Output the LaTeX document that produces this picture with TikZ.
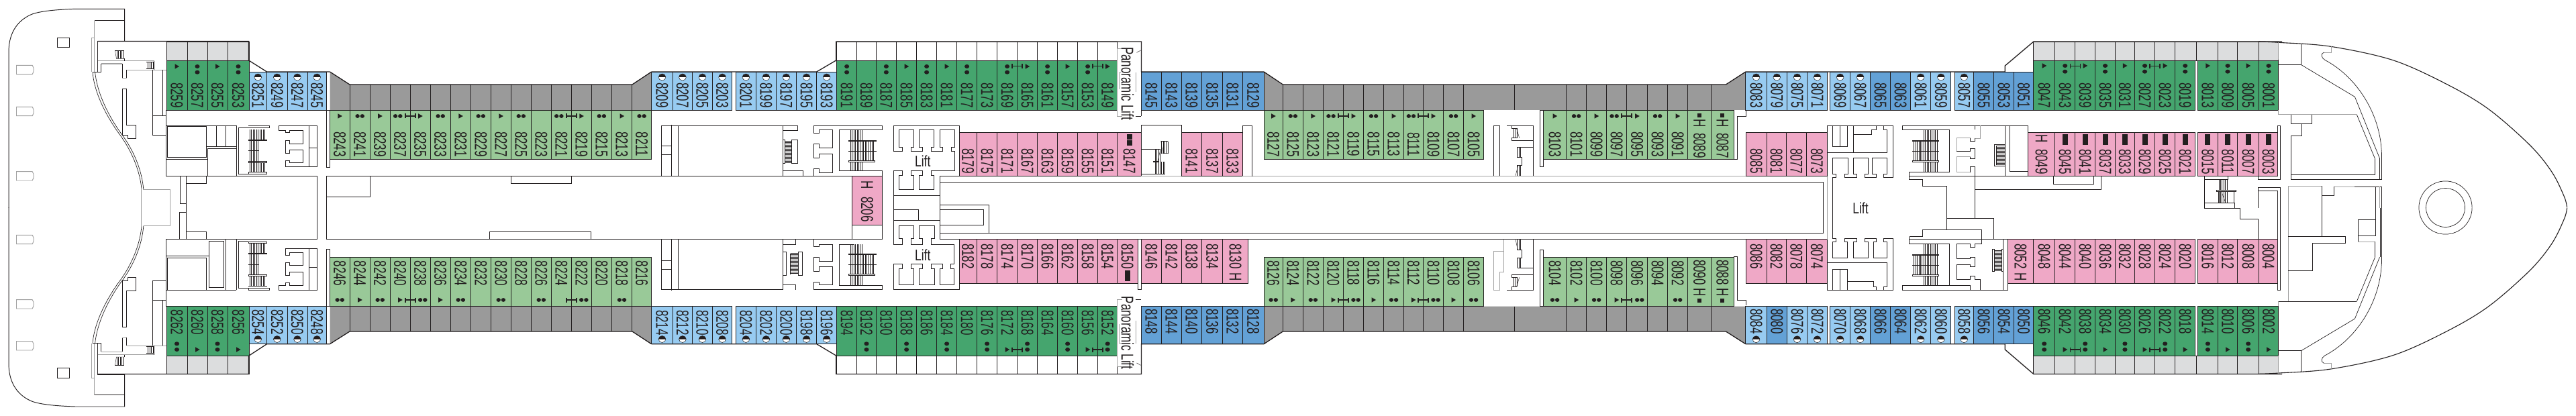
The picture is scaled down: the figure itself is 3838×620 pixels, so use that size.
\documentclass[tikz,border=0pt]{standalone}
\usepackage{fontspec}
\usepackage{graphicx}
\setmainfont{Liberation Sans}
\definecolor{ink}{HTML}{231F20}
\definecolor{dg}{HTML}{45A56E}
\definecolor{mg}{HTML}{99C998}
\definecolor{lb}{HTML}{97CBF1}
\definecolor{bb}{HTML}{63A1D6}
\definecolor{pk}{HTML}{EFA8C6}
\definecolor{gy}{HTML}{9A9A9A}
\definecolor{lg}{HTML}{DCDDDE}
\definecolor{gl}{HTML}{A0A0A0}
\tikzset{
 zz/.style 2 args={shift={(#1,#2)},x=0.408163pt,y=-0.333333pt},
 zy/.style 2 args={shift={(#1,#2)},x=0.40689pt,y=-0.333333pt},
 ln/.style={draw=ink,line width=0.95pt,line join=miter},
 gr/.style={draw=gl,line width=0.95pt},
 grt/.style={draw=gl,line width=1.5pt},
 thn/.style={draw=ink,line width=0.45pt},
 thk/.style={draw=ink,line width=1.7pt},
 cab/.style={draw=ink,line width=0.95pt},
 lab/.style={rotate=-90,inner sep=0pt,text=ink,font=\fontsize{17}{17}\selectfont},
 mirror/.style={shift={(0,619.33)},yscale=-1}
}
\newcommand\rl[1]{\scalebox{1}[1.5]{#1}}
\newcommand\mkn{}
\newcommand\mkt{\fill[ink] (\cx-3,\my-3.7)--(\cx+3.6,\my)--(\cx-3,\my+3.7)--cycle;}
\newcommand\dpair[1]{\fill[ink] (#1-3.6,\my) ellipse [x radius=3.2,y radius=2.9];\fill[ink] (#1+3.6,\my) ellipse [x radius=3.2,y radius=2.9];}
\newcommand\mkd{\dpair{\cx}}
\newcommand\mkD{\dpair{\cx-3.5}}
\newcommand\mkE{\dpair{\cx+3.5}}
\newcommand\mkv{\fill[ink] (\cx,\my) ellipse [x radius=3.6,y radius=3];\fill[ink] (\cx,\my+8.7) ellipse [x radius=3.6,y radius=3];}
\newcommand\mku{\fill[ink] (\cx,\my) ellipse [x radius=3.6,y radius=3];\fill[ink] (\cx,\my-8.7) ellipse [x radius=3.6,y radius=3];}
\newcommand\mkc{\draw[ink,line width=.5pt,fill=white] (\cx,\my) ellipse [x radius=5.4,y radius=5];\fill[ink] (\cx-5.4,\my) arc [start angle=180,end angle=360,x radius=5.4,y radius=5]--cycle;}
\newcommand\mkb{\fill[ink] (\cx-4,\my-8) rectangle (\cx+4,\my+8);}
\newcommand\mkH{\node[lab] at (\cx,\my) {\rl{H}};}
\newcommand\mks{\fill[ink] (\cx-3,\my-2.7) rectangle (\cx+3,\my+2.7);\node[lab] at (\cx,\my+11.3) {\rl{H}};}
\newcommand\mkS{\fill[ink] (\cx-3,\my-2.7) rectangle (\cx+3,\my+2.7);\node[lab] at (\cx,\my-12) {\rl{H}};}
\newcommand\mkq{\fill[ink] (\cx-4,200) rectangle (\cx+4,208);\fill[ink] (\cx-4,209) rectangle (\cx+4,217);}
\newcommand\cabrow[6]{\def\my{#4}\foreach \xa/\xb/\lbl/\mkr in {#6}{\pgfmathsetmacro\cx{(\xa+\xb)/2}\draw[cab,fill=#5] (\xa,#1) rectangle (\xb,#2);\node[lab] (c\lbl) at (\cx,#3) {\rl{\lbl}};\csname mk\mkr\endcsname}}
\newcommand\blank[4]{\foreach \xa/\xb in {#4}{\draw[cab,fill=#3] (\xa,#1) rectangle (\xb,#2);}}
\newcommand\conn[2]{\foreach \q in {#2}{\draw[ink,line width=1.3pt] (\q-7.5,#1)--(\q+7.5,#1);\draw[ink,line width=1.5pt] (\q-7.5,#1-3.5)--(\q-7.5,#1+3.5);\draw[ink,line width=1.5pt] (\q+7.5,#1-3.5)--(\q+7.5,#1+3.5);}}
\newcommand\hv[4]{\pgfmathtruncatemacro\hb{#1+6}\foreach \hx in {#1,\hb,...,#2}{\draw[thn] (\hx,#3)--(\hx,#4);}}
\newcommand\hh[4]{\pgfmathtruncatemacro\hb{#3+6}\foreach \hy in {#3,\hb,...,#4}{\draw[thn] (#1,\hy)--(#2,\hy);}}
\newcommand\sternhalf{%
 \begin{scope}[zz={0}{0}]
 \draw[ln] (455,186)--(455,40)--(275,40) .. controls (200,43) and (150,50) .. (120,62) .. controls (70,85) and (32,140) .. (32,230)--(32,930);
 \draw[ln] (345,92)--(453,92);
 \draw[gr] (345,92)--(345,168)--(335,168)--(335,322);\draw[gr] (345,168)--(345,322);
 \draw[thn,line width=.7pt] (338,323) .. controls (345,420) and (390,520) .. (430,590) .. controls (480,670) and (510,760) .. (517,845);
 \draw[thn,line width=.7pt] (347,323) .. controls (355,420) and (398,520) .. (438,590) .. controls (488,670) and (518,760) .. (524,848);
 \draw[gr] (524,848)--(620,848)--(620,930);\draw[gr] (515,845)--(515,930);
 \draw[ln] (356,184)--(455,184);\draw[ln] (356,184)--(356,323);
 \draw[ln] (338,323)--(369,323)--(369,285);\draw[grt] (369,285)--(447,285);\draw[ln] (447,285)--(447,348);
 \draw[gr] (447,348)--(462,348);\draw[ln] (462,348)--(462,312);\draw[gr] (462,312)--(607,312);
 \draw[grt] (357,272)--(563,272);\draw[ln] (455,262)--(455,272);\draw[ln] (533,278)--(563,278);\draw[ln] (563,272)--(563,312);
 \hv{426}{452}{226}{262}\draw[ln] (420,226)--(454,226);\draw[thn] (420,226)--(425,262)--(454,262);
 \hv{540}{558}{278}{308}\draw[thn] (533,308)--(562,308);
 \draw[ln] (557,312)--(557,604)--(607,604);\draw[ln] (557,517)--(607,517);\draw[ln] (594,312)--(594,517);
 \draw[ln] (447,397)--(462,397)--(462,558)--(496,558)--(496,619)--(467,619)--(467,604)--(447,604)--cycle;
 \draw[ln] (209,169) rectangle (254,212);
 \foreach \p in {292,478,767}{\draw[gr] (60,\p)--(118,\p) .. controls (125,\p+13) and (125,\p+27) .. (118,\p+40)--(60,\p+40)--cycle;}
 \end{scope}}
\newcommand\bowhalf{%
 \begin{scope}[zy={3200}{0}]
 \draw[ln,line width=1.1pt] plot[smooth,tension=.55] coordinates {(405,186) (480,190) (670,208) (900,270) (1100,380) (1250,490) (1400,650) (1480,770) (1525,880) (1535,928)};
 \draw[gr] (478,190)--(478,268);
 \draw[ln] (562,198)--(562,290)--(478,290);
 \draw[thn,line width=.7pt] (562,290)--(758,433)--(849,708);
 \draw[gr] (672,208)--(672,234)--(645,234);
 \draw[thn,line width=.7pt] (645,234) .. controls (632,240) and (635,258) .. (648,268) .. controls (760,340) and (850,500) .. (856,680);
 \end{scope}}
\begin{document}
\begin{tikzpicture}[x=1pt,y=-1pt]
\useasboundingbox (0,0) rectangle (3838,620);
\fill[white] (0,0) rectangle (3838,620);
% ---------- grey promenade polygons
\foreach \xl/\xa/\xb/\xr in {491.5/521/942/970.6,1883/1911.4/2571.4/2600.8}{
 \fill[gy] (\xl,107)--(\xa,126)--(\xb,126)--(\xr,107)--(\xr,164)--(\xl,164)--cycle;
 \draw[ln,line width=1.3pt] (\xl,107)--(\xa,126)--(\xb,126)--(\xr,107);
 \fill[gy] (\xl,512.7)--(\xa,494)--(\xb,494)--(\xr,512.7)--(\xr,456.5)--(\xl,456.5)--cycle;
 \draw[ln,line width=1.3pt] (\xl,512.7)--(\xa,494)--(\xb,494)--(\xr,512.7);
}
\foreach \q in {521,551.4,581,611.4,641,671.4,701.2,731.4,761.2,791.4,821.2,851.4,881.2,911.4,941.6,1911.4,1941.2,1971.4,2001.6,2031.4,2061.6,2091.4,2120.4,2150.6,2180.4,2256.7,2333.5,2363.7,2393.5,2423.7,2454.7,2484.5,2514.7,2549.4}{
 \draw[cab] (\q,126)--(\q,164);\draw[cab] (\q,456.5)--(\q,494);}
% ---------- top row, odd cabins
\blank{62}{90}{lg}{248/279,279/309,309/339,339/371,3029.8/3061.6,3061.6/3091.8,3091.8/3121.6,3121.6/3151.4,3151.4/3180.4,3180.4/3210.6,3210.6/3240.8,3240.8/3272.7,3272.7/3304.1,3304.1/3333.9,3333.9/3365.3,3365.3/3394.7}
\blank{530.3}{557.3}{lg}{248/279,279/309,309/339,339/371,3029.8/3061.6,3061.6/3091.8,3091.8/3121.6,3121.6/3151.4,3151.4/3180.4,3180.4/3210.6,3210.6/3240.8,3240.8/3272.7,3272.7/3304.1,3304.1/3333.9,3333.9/3365.3,3365.3/3394.7}
\blank{62}{90}{white}{1246.5/1276.7,1276.7/1305.3,1305.3/1335.5,1335.5/1365.7,1365.7/1395.5,1395.5/1425.7,1425.7/1455.5,1455.5/1485.7,1485.7/1515.5,1515.5/1545.7,1545.7/1575.5,1575.5/1605.7,1605.7/1635.5,1635.5/1664.9}
\blank{530.3}{557.3}{white}{1246.5/1276.7,1276.7/1305.3,1305.3/1335.5,1335.5/1365.7,1365.7/1395.5,1395.5/1425.7,1425.7/1455.5,1455.5/1485.7,1485.7/1515.5,1515.5/1545.7,1545.7/1575.5,1575.5/1605.7,1605.7/1635.5,1635.5/1664.9}
\cabrow{90}{164}{142}{99}{dg}{248/279/8259/t,279/309/8257/v,309/339/8255/t,339/371/8253/v}
\cabrow{107}{164}{142}{115}{lb}{371/397.6/8251/c,397.6/428/8249/c,428/458/8247/c,458/486.5/8245/c}
\cabrow{164}{237}{215}{173}{mg}{491.5/521/8243/t,521/551.4/8241/d,551.4/581/8239/t,581/611.4/8237/D,611.4/641/8235/t,641/671.4/8233/d,671.4/701.2/8231/t,701.2/731.4/8229/d,731.4/761.2/8227/t,761.2/791.4/8225/d,791.4/821.2/8223/n,821.2/851.4/8221/D,851.4/881.2/8219/t,881.2/911.4/8215/d,911.4/941.6/8213/t,941.6/970.6/8211/d}
\cabrow{107}{164}{142}{115}{lb}{970.6/1002.4/8209/c,1002.4/1031.4/8207/c,1031.4/1061.6/8205/c,1061.6/1090.6/8203/c,1096.3/1126.5/8201/c,1126.5/1156.3/8199/c,1156.3/1186.5/8197/c,1186.5/1216.7/8195/c,1216.7/1246.5/8193/c}
\cabrow{90}{164}{142}{99}{dg}{1246.5/1276.7/8191/v,1276.7/1305.3/8189/n,1305.3/1335.5/8187/v,1335.5/1365.7/8185/t,1365.7/1395.5/8183/v,1395.5/1425.7/8181/t,1425.7/1455.5/8177/v,1455.5/1485.7/8173/n,1485.7/1515.5/8169/v,1515.5/1545.7/8165/t,1545.7/1575.5/8161/v,1575.5/1605.7/8157/t,1605.7/1635.5/8153/v,1635.5/1664.9/8149/t}
\cabrow{107}{164}{142}{115}{bb}{1700.4/1730.6/8145/n,1730.6/1760.4/8143/n,1760.4/1790.6/8139/n,1790.6/1821.6/8135/n,1821.6/1851.4/8131/n,1851.4/1883/8129/n}
\cabrow{164}{237}{215}{173}{mg}{1883/1911.4/8127/t,1911.4/1941.2/8125/d,1941.2/1971.4/8123/t,1971.4/2001.6/8121/D,2001.6/2031.4/8119/t,2031.4/2061.6/8115/d,2061.6/2091.4/8113/t,2091.4/2120.4/8111/D,2120.4/2150.6/8109/t,2150.6/2180.4/8107/d,2180.4/2210.6/8105/t,2299.6/2333.5/8103/t,2333.5/2363.7/8101/d,2363.7/2393.5/8099/t,2393.5/2423.7/8097/D,2423.7/2454.7/8095/t,2454.7/2484.5/8093/d,2484.5/2514.7/8091/t}
\cabrow{164}{237}{217}{172}{mg}{2514.7/2549.4/8089/s,2549.4/2583.3/8087/s}
\cabrow{107}{164}{142}{115}{lb}{2600.8/2632.2/8083/c,2632.2/2662.4/8079/c,2662.4/2692.7/8075/c,2692.7/2722.4/8071/c,2726.5/2756.7/8069/c,2756.7/2786.5/8067/c,2846.5/2876.7/8061/c,2876.7/2906.9/8059/c,2912.2/2940.4/8057/c}
\cabrow{107}{164}{142}{115}{bb}{2786.5/2816.7/8065/n,2816.7/2846.5/8063/n,2940.4/2970.6/8055/n,2970.6/3000.4/8053/n,3000.4/3029.8/8051/n}
\cabrow{90}{164}{142}{98}{dg}{3029.8/3061.6/8047/t,3061.6/3091.8/8043/v,3091.8/3121.6/8039/t,3121.6/3151.4/8035/v,3151.4/3180.4/8031/t,3180.4/3210.6/8027/v,3210.6/3240.8/8023/t,3240.8/3270.6/8019/v,3274.7/3304.1/8013/t,3304.1/3333.9/8009/v,3333.9/3365.3/8005/t,3365.3/3394.7/8001/v}
% ---------- inner pink, upper
\cabrow{197}{262.7}{240}{208}{pk}{1429/1455.5/8179/n,1455.5/1485.7/8175/n,1485.7/1515.5/8171/n,1515.5/1545.7/8167/n,1545.7/1575.5/8163/n,1575.5/1605.7/8159/n,1605.7/1635.5/8155/n,1635.5/1664.9/8151/n,1664.9/1700.4/8147/q,1760.4/1790.6/8141/n,1790.6/1821.6/8137/n,1821.6/1851.4/8133/n,2601.2/2632.2/8085/n,2632.2/2661.2/8081/n,2661.2/2691.4/8077/n,2691.4/2722.4/8073/n}
\cabrow{197}{262.7}{241}{207}{pk}{3021.6/3061.6/8049/H}
\cabrow{197}{262.7}{241}{208}{pk}{3061.6/3091.8/8045/b,3091.8/3121.6/8041/b,3121.6/3151.4/8037/b,3151.4/3180.4/8033/b,3180.4/3210.6/8029/b,3210.6/3240.8/8025/b,3240.8/3270.6/8021/b,3274.7/3304.1/8015/b,3304.1/3333.9/8011/b,3333.9/3365.3/8007/b,3365.3/3393.9/8003/b}
\draw[cab,fill=pk] (1269.4,262.7) rectangle (1314.7,335.3);
\node[lab] (c8206) at (1292,312) {\rl{8206}};\node[lab] (h8206) at (1292,275.7) {\rl{H}};
% ---------- inner pink, lower
\cabrow{356.7}{422.3}{382}{411}{pk}{1429/1455.5/8182/n,1455.5/1485.7/8178/n,1485.7/1515.5/8174/n,1515.5/1545.7/8170/n,1545.7/1575.5/8166/n,1575.5/1605.7/8162/n,1605.7/1635.5/8158/n,1635.5/1664.5/8154/n,1664.5/1695/8150/b,1700.4/1730.6/8146/n,1730.6/1760.4/8142/n,1760.4/1790.6/8138/n,1790.6/1821.6/8134/n,2601.2/2632.2/8086/n,2632.2/2661.2/8082/n,2661.2/2691.4/8078/n,2691.4/2722.4/8074/n}
\cabrow{356.7}{422.3}{382}{413}{pk}{1821.6/1859.6/8130/H,2991.4/3029.4/8052/H}
\cabrow{356.7}{422.3}{382}{411}{pk}{3029.4/3061.6/8048/n,3061.6/3091.8/8044/n,3091.8/3121.6/8040/n,3121.6/3151.4/8036/n,3151.4/3180.4/8032/n,3180.4/3210.6/8028/n,3210.6/3240.8/8024/n,3240.8/3270.6/8020/n,3274.7/3304.1/8016/n,3304.1/3333.9/8012/n,3333.9/3365.3/8008/n,3365.3/3393.9/8004/n}
% ---------- bottom row, even cabins
\cabrow{456.7}{530.3}{480.5}{521}{dg}{248/279/8262/u,279/309/8260/t,309/339/8258/u,339/371/8256/t}
\cabrow{456.7}{512.7}{480}{505.5}{lb}{371/397.6/8254/c,397.6/428/8252/c,428/458/8250/c,458/486.5/8248/c}
\cabrow{383.3}{456.5}{407.5}{447}{mg}{491.5/521/8246/d,521/551.4/8244/t,551.4/581/8242/d,581/611.4/8240/t,611.4/641/8238/E,641/671.4/8236/t,671.4/701.2/8234/d,701.2/731.4/8232/n,731.4/761.2/8230/d,761.2/791.4/8228/n,791.4/821.2/8226/d,821.2/851.4/8224/n,851.4/881.2/8222/E,881.2/911.4/8220/n,911.4/941.6/8218/d,941.6/970.6/8216/n}
\cabrow{456.7}{512.7}{481}{505.5}{lb}{970.6/1002.4/8214/c,1002.4/1031.4/8212/c,1031.4/1061.6/8210/c,1061.6/1090.6/8208/c,1096.3/1126.5/8204/c,1126.5/1156.3/8202/c,1156.3/1186.5/8200/c,1186.5/1216.7/8198/c,1216.7/1246.5/8196/c}
\cabrow{456.7}{530.3}{481}{521}{dg}{1246.5/1276.7/8194/n,1276.7/1305.3/8192/u,1305.3/1335.5/8190/n,1335.5/1365.7/8188/u,1365.7/1395.5/8186/n,1395.5/1425.7/8184/u,1425.7/1455.5/8180/n,1455.5/1485.7/8176/u,1485.7/1515.5/8172/t,1515.5/1545.7/8168/u,1545.7/1575.5/8164/n,1575.5/1605.7/8160/u,1605.7/1635.5/8156/t,1635.5/1664.9/8152/u}
\cabrow{456.7}{512.7}{479}{505.5}{bb}{1700.4/1730.6/8148/n,1730.6/1760.4/8144/n,1760.4/1790.6/8140/n,1790.6/1821.6/8136/n,1821.6/1851.4/8132/n,1851.4/1883/8128/n}
\cabrow{383.3}{456.5}{407}{447}{mg}{1883/1911.4/8126/d,1911.4/1941.2/8124/t,1941.2/1971.4/8122/d,1971.4/2001.6/8120/t,2001.6/2031.4/8118/E,2031.4/2061.6/8116/t,2061.6/2091.4/8114/d,2091.4/2120.4/8112/t,2120.4/2150.6/8110/E,2150.6/2180.4/8108/t,2180.4/2210.6/8106/d,2299.6/2333.5/8104/d,2333.5/2363.7/8102/t,2363.7/2393.5/8100/d,2393.5/2423.7/8098/t,2423.7/2454.7/8096/E,2454.7/2484.5/8094/n,2484.5/2514.7/8092/d}
\cabrow{383.3}{456.5}{406}{448}{mg}{2514.7/2549.4/8090/S,2549.4/2583.3/8088/S}
\cabrow{456.7}{512.7}{479}{505.7}{lb}{2600.8/2632.2/8084/c,2662.4/2692.7/8076/c,2692.7/2722.4/8072/c,2726.5/2756.7/8070/c,2756.7/2786.5/8068/c,2846.5/2876.7/8062/c,2876.7/2906.9/8060/c,2912.2/2940.4/8058/c}
\cabrow{456.7}{512.7}{479}{505.7}{bb}{2632.2/2662.4/8080/n,2786.5/2816.7/8066/n,2816.7/2846.5/8064/n,2940.4/2970.6/8056/n,2970.6/3000.4/8054/n,3000.4/3029.8/8050/n}
\cabrow{456.7}{530.3}{479}{521}{dg}{3029.8/3061.6/8046/u,3061.6/3091.8/8042/t,3091.8/3121.6/8038/u,3121.6/3151.4/8034/t,3151.4/3180.4/8030/u,3180.4/3210.6/8026/t,3210.6/3240.8/8022/u,3240.8/3270.6/8018/t,3274.7/3304.1/8014/u,3304.1/3333.9/8010/t,3333.9/3365.3/8006/u,3365.3/3394.7/8002/t}
% ---------- balcony connectors
\conn{98.7}{1515.5,1635.5,3091.8,3210.6}
\conn{173}{611.4,851.4,2001.6,2120.4,2423.7}
\conn{447}{611.4,851.4,2001.6,2120.4,2423.7}
\conn{521}{1515.5,1635.5,3091.8,3210.6}
% ---------- outer notches in hull line
\draw[ln,line width=1.3pt] (145.3,61.5)--(370.6,61.5)--(370.6,90)--(397.6,107)--(491.5,107);
\draw[ln,line width=1.3pt] (145.3,557.5)--(370.6,557.5)--(370.6,530.3)--(397.6,512.7)--(491.5,512.7);
\draw[ln,line width=1.3pt] (970.6,107)--(1216.7,107)--(1245.7,90)--(1245.7,62)--(1700.4,62)--(1700.4,107)--(1883,107);
\draw[ln,line width=1.3pt] (970.6,512.7)--(1216.7,512.7)--(1245.7,530)--(1245.7,557.5)--(1700.4,557.5)--(1700.4,512.7)--(1883,512.7);
\draw[ln,line width=1.3pt] (2600.8,107)--(2987.3,107)--(2987.3,98)--(3029.8,62)--(3400,62);
\draw[ln,line width=1.3pt] (2600.8,512.7)--(2987.3,512.7)--(2987.3,521)--(3029.8,557.5)--(3400,557.5);
% ---------- stern and bow halves
\sternhalf
\begin{scope}[mirror]\sternhalf\bowhalf\end{scope}
\bowhalf
% ---------- long corridor lines
\draw[ln] (486.5,262.3)--(1269.4,262.3);
\draw[ln] (486.5,356.7)--(1269.4,356.7);
\draw[ln] (1400.4,271.3)--(2716.7,271.3)--(2716.7,347.3)--(1400.4,347.3);
\draw[gr] (1700,262.7)--(1760,262.7);\draw[gr] (1851,262.7)--(2601,262.7);
\draw[ln] (1859,356.7)--(2601,356.7);
% ---------- white wall bars
\draw[ln] (486.5,164) rectangle (491.5,249);
\draw[ln] (486.5,371.3) rectangle (491.5,456.7);
\draw[ln] (1695,356.7) rectangle (1700.4,431.7);
\draw[ln] (2294.3,164) rectangle (2299.6,248);
\draw[ln] (2294.3,372.3) rectangle (2299.6,456);
% ---------- panel 1
\begin{scope}[zz={0}{0}]
\draw[ln] (607,493)--(607,787)--(1158,787)--(1158,930);
\draw[ln] (610,564) rectangle (753,704);
\draw[ln] (607,562)--(863,562)--(863,787);
\draw[ln] (870,572)--(870,778)--(907,778);
\draw[ln] (870,572)--(907,572);
\draw[ln] (907,572)--(984,572)--(984,562)--(907,562);
\draw[ln] (753,562)--(753,656)--(863,656);\draw[ln] (790,562)--(790,656);\draw[ln] (825,562)--(825,656);
\draw[ln] (607,712)--(757,712);\draw[ln] (757,664)--(863,664);\draw[ln] (757,664)--(757,787);
\hv{912}{970}{578}{627}\hv{912}{970}{727}{770}\hv{912}{945}{627}{725}
\draw[thk] (906,627)--(975,627);\draw[thn,line width=.9pt] (906,673)--(945,673);
\draw[ln] (907,721) rectangle (975,727);\draw[ln] (907,770) rectangle (975,778);
\draw[ln] (1018,562)--(1018,582)--(1042,582)--(1042,592)--(1058,592)--(1058,584)--(1106,584)--(1106,642)--(1058,642)--(1058,628)--(1042,628)--(1042,685)--(1058,685)--(1058,670)--(1106,670)--(1106,727)--(1058,727)--(1058,718)--(1042,718)--(1042,745)--(1158,745)--(1158,562)--cycle;
\draw[ln] (1128,562)--(1128,745);\draw[ln] (1128,660)--(1158,660);
\draw[ln] (658,787)--(658,910)--(680,910);\draw[ln] (680,787)--(680,930);\draw[ln] (680,820)--(753,820)--(753,787);
\draw[ln] (1192,787)--(1192,930);\draw[ln] (1192,880)--(1351,880)--(1351,787);
\end{scope}
% ---------- panel 2
\begin{scope}[zz={0}{310}]
\draw[ln] (1158,0)--(1158,140)--(607,140)--(607,440);
\draw[ln] (610,222) rectangle (753,367);\draw[ln] (607,214)--(763,214);
\draw[ln] (763,148) rectangle (818,355);
\draw[ln] (825,140)--(825,367);\draw[ln] (863,140)--(863,367);\draw[ln] (607,367)--(863,367);
\draw[ln] (870,148)--(870,358)--(907,358);\draw[ln] (870,148)--(907,148);
\draw[ln] (907,358) rectangle (984,367);
\hv{912}{970}{158}{204}\hv{912}{970}{304}{350}\hv{912}{945}{204}{300}
\draw[thk] (906,204)--(975,204);\draw[thn,line width=.9pt] (906,253)--(945,253);
\draw[ln] (907,298) rectangle (975,304);\draw[ln] (907,150) rectangle (975,158);\draw[ln] (907,350)--(975,350);
\draw[ln] (1042,182)--(1158,182)--(1158,367)--(1018,367)--(1018,347)--(1042,347)--(1042,335)--(1058,335)--(1058,347)--(1106,347)--(1106,285)--(1058,285)--(1058,300)--(1042,300)--(1042,243)--(1058,243)--(1058,257)--(1106,257)--(1106,199)--(1058,199)--(1058,210)--(1042,210)--cycle;
\draw[ln] (1128,182)--(1128,367);\draw[ln] (1128,266)--(1158,266);
\draw[ln] (655,140)--(655,18)--(680,18);\draw[ln] (680,0)--(680,140);\draw[ln] (680,106)--(753,106)--(753,140);
\draw[ln] (1192,0)--(1192,140);
\end{scope}
% ---------- panel 3
\begin{scope}[zz={640}{0}]
\draw[ln] (297,787)--(297,820)--(518,820)--(518,787);
\draw[ln] (846,562) rectangle (907,787);\draw[ln] (883,558)--(883,787);\draw[ln] (846,651)--(883,651);\draw[ln] (846,690)--(883,690);
\draw[ln] (907,562)--(1290,562)--(1290,787);\draw[ln] (1290,562)--(1344,562)--(1344,583)--(1290,583);
\draw[ln] (1290,763)--(1364,763)--(1364,787);
\draw[ln] (1290,625)--(1296,625)--(1296,730)--(1290,730);\draw[ln] (1322,625) rectangle (1344,730);
\hh{1298}{1322}{630}{726}
\draw[ln] (1402,787)--(1402,754)--(1421,754)--(1421,772)--(1471,772)--(1471,688)--(1421,688)--(1421,706)--(1402,706)--(1402,643)--(1421,643)--(1421,661)--(1471,661)--(1471,580)--(1421,580)--(1421,595)--(1402,595)--(1402,562)--(1653,562)--(1653,580)--(1495,580)--(1495,764)--(1653,764)--(1653,787);
\hv{1536}{1578}{580}{630}\hv{1536}{1578}{724}{764}\hv{1536}{1622}{630}{720}
\draw[thk] (1530,630)--(1632,630);\draw[thn,line width=.9pt] (1530,676)--(1632,676);
\draw[ln] (1530,718) rectangle (1625,724);
\end{scope}
% ---------- panel 4
\begin{scope}[zz={640}{310}]
\draw[ln] (220,140)--(220,105)--(589,105)--(589,140);
\draw[ln] (846,140) rectangle (907,365);\draw[ln] (883,140)--(883,368);\draw[ln] (846,235)--(883,235);\draw[ln] (846,273)--(883,273);
\draw[ln] (907,365)--(1290,365)--(1290,140);\draw[ln] (1290,140)--(1337,140)--(1337,163)--(1290,163);\draw[ln] (1290,342)--(1337,342)--(1337,365);
\draw[ln] (1290,197) rectangle (1302,301);\draw[ln] (1346,197) rectangle (1361,301);
\hh{1318}{1346}{203}{298}\draw[ln] (1318,203)--(1318,298);
\draw[ln] (1402,365)--(1402,330)--(1421,330)--(1421,343)--(1471,343)--(1471,262)--(1421,262)--(1421,283)--(1402,283)--(1402,220)--(1421,220)--(1421,238)--(1471,238)--(1471,163)--(1421,163)--(1421,172)--(1402,172)--(1402,140)--(1653,140)--(1653,76);
\draw[ln] (1542,76)--(1542,140);
\draw[ln] (1402,365)--(1653,365)--(1653,345)--(1495,345)--(1495,163)--(1550,163);
\hv{1536}{1578}{163}{207}\hv{1536}{1578}{301}{345}\hv{1536}{1622}{207}{295}
\draw[thk] (1530,207)--(1632,207);\draw[thn,line width=.9pt] (1530,253)--(1632,253);
\draw[ln] (1530,295) rectangle (1625,301);
\end{scope}
% ---------- panel 5
\begin{scope}[zz={1280}{0}]
\draw[ln] (125,562)--(125,676)--(158,676)--(158,657)--(146,657)--(146,580)--(200,580)--(200,657)--(190,657)--(190,676)--(232,676)--(232,657)--(220,657)--(220,580)--(274,580)--(274,657)--(264,657)--(264,676)--(305,676)--(305,657)--(295,657)--(295,580)--(348,580)--(348,657)--(337,657)--(337,676)--(350,676)--(350,763)--(264,763)--(264,784)--(274,784)--(274,848)--(220,848)--(220,784)--(232,784)--(232,763)--(190,763)--(190,784)--(200,784)--(200,848)--(146,848)--(146,784)--(158,784)--(158,763)--(125,763)--(125,930);
\draw[ln] (125,562)--(365,562)--(365,788)--(295,788)--(295,930);
\draw[ln] (125,873)--(295,873);
\draw[ln] (295,915)--(474,915)--(474,930);
\draw[ln] (1030,590)--(1030,558)--(1177,558)--(1177,590);
\draw[ln] (1030,590)--(1030,788);
\draw[ln] (1030,667)--(1100,667);\draw[ln] (1030,778)--(1117,778);\draw[gr] (1030,788)--(1177,788);
\draw[ln] (1400,590)--(1400,562)--(1435,562)--(1435,788);
\hv{1080}{1098}{667}{722}\hv{1080}{1116}{724}{778}\hv{1104}{1128}{632}{686}
\draw[thn,line width=.9pt] (1102,630)--(1128,630);\draw[thk] (1073,722)--(1095,722);
\draw[thn] (1102,630)--(1108,686)--(1128,686);\draw[thn] (1100,667)--(1090,722);
% panoramic brackets
\draw[gr] (960,218)--(943,218)--(943,520)--(960,520);
\draw[ln] (1010,520)--(1030,520);\draw[ln] (1030,320)--(1030,520);
\draw[thn] (1013,235)--(1028,225);\draw[gr,line width=.5pt] (1010,325)--(1010,410);
\draw[gr] (955,325)--(950,325)--(950,400);
\end{scope}
\node[lab] (pl1) at (1680,124.5) {\rl{Panoramic Lift}};
\node[inner sep=0pt,text=ink,font=\fontsize{23}{23}\selectfont] (lift1) at (1374.7,240) {\scalebox{.76}[1]{Lift}};
% ---------- panel 6
\begin{scope}[zz={1280}{310}]
\draw[ln] (125,0)--(125,56);\draw[ln] (295,0)--(295,56);
\draw[ln] (125,8)--(217,8)--(217,56);
\draw[ln] (295,8)--(455,8)--(455,76)--(295,76);\draw[ln] (474,0)--(474,112);
\draw[ln] (0,140)--(85,140)--(85,76);
\draw[ln] (0,345)--(85,345)--(85,365)--(0,365);
\draw[ln] (295,56)--(125,56)--(125,163)--(158,163)--(158,137)--(146,137)--(146,80)--(200,80)--(200,137)--(190,137)--(190,163)--(232,163)--(232,137)--(220,137)--(220,80)--(276,80)--(276,137)--(264,137)--(264,163)--(347,163)--(347,250)--(335,250)--(335,270)--(347,270)--(347,343)--(295,343)--(295,270)--(305,270)--(305,250)--(264,250)--(264,270)--(276,270)--(276,343)--(220,343)--(220,270)--(232,270)--(232,250)--(190,250)--(190,270)--(200,270)--(200,343)--(146,343)--(146,270)--(158,270)--(158,250)--(125,250)--(125,365)--(365,365)--(365,140)--(295,140)--cycle;
\draw[gr] (960,410)--(943,410)--(943,710)--(960,710);
\draw[ln] (1010,410)--(1030,410);\draw[ln] (1030,610)--(1030,742);
\draw[thn] (1013,693)--(1028,703);\draw[gr,line width=.5pt] (1010,505)--(1010,605);
\draw[gr] (955,605)--(950,605)--(950,520);
\end{scope}
\node[lab] (pl2) at (1680,496) {\rl{Panoramic Lift}};
\node[inner sep=0pt,text=ink,font=\fontsize{23}{23}\selectfont] (lift2) at (1374.7,380) {\scalebox{.76}[1]{Lift}};
% ---------- panel 7
\begin{scope}[zz={1920}{0}]
\draw[ln] (748,787)--(748,562)--(771,562)--(771,787);
\draw[ln] (797,562)--(893,562)--(893,787);
\draw[ln] (814,562)--(814,573)--(832,573);
\draw[ln] (832,617)--(814,617)--(814,628)--(893,628);
\hv{822}{834}{573}{617}\draw[thn] (832,575)--(842,617);
\draw[ln] (893,658)--(835,658)--(835,703)--(852,703)--(852,738)--(835,738)--(835,787);
\hv{840}{846}{658}{703}\hv{840}{846}{738}{787}\draw[thn] (837,740)--(828,787);
\end{scope}
% ---------- panel 8
\begin{scope}[zz={1920}{310}]
\draw[gr] (785,140)--(785,287)--(770,287)--(770,366)--(748,366)--(748,192)--(785,192);
\draw[ln] (893,140)--(893,367)--(797,367);
\draw[ln] (835,268)--(893,268);\draw[ln] (814,298)--(893,298);
\draw[ln] (814,298)--(814,310)--(832,310);\draw[ln] (832,352)--(814,352)--(814,367);
\hv{822}{834}{310}{352}\draw[thn] (842,310)--(832,352);
\draw[ln] (835,268)--(835,222)--(852,222)--(852,187)--(835,187)--(835,140);
\hv{840}{846}{140}{187}\hv{840}{846}{222}{268}\draw[thn] (828,140)--(836,187);
\end{scope}
% ---------- panel 9
\begin{scope}[zz={2560}{0}]
\draw[ln] (57,493)--(57,712)--(70,712)--(70,521)--(102,521)--(102,493);
\draw[gr] (398,788)--(398,930);
\draw[ln] (398,590)--(398,562)--(638,562)--(638,793)--(605,793)--(605,778)--(617,778)--(617,705)--(563,705)--(563,778)--(577,778)--(577,793)--(535,793)--(535,778)--(548,778)--(548,705)--(493,705)--(493,778)--(505,778)--(505,793)--(462,793)--(462,778)--(474,778)--(474,705)--(417,705)--(417,778)--(430,778)--(430,793)--(417,793)--(417,930);
\draw[ln] (398,590)--(398,682)--(617,682)--(617,580)--(605,580)--(605,562);
\draw[ln] (493,562)--(493,682);\draw[ln] (493,601)--(560,601)--(560,580)--(577,580)--(577,562);
\draw[ln] (417,562)--(417,655)--(472,655)--(472,562);\draw[ln] (444,562)--(444,655);
\draw[ln] (672,562)--(937,562)--(957,562);
\draw[ln] (672,562)--(672,580)--(845,580)--(845,770)--(697,770)--(697,802)--(746,802)--(746,832)--(834,832)--(834,930);
\draw[ln] (697,787)--(1131,787);\draw[ln] (937,787)--(937,930);
\draw[ln] (937,562)--(937,580);
\draw[gr] (957,562)--(957,618)--(937,618);\draw[ln] (937,618)--(937,631)--(920,631)--(920,617);\draw[gr] (920,617)--(870,617)--(870,677);\draw[ln] (870,677)--(920,677)--(920,665)--(937,665)--(937,710)--(920,710)--(920,701);\draw[gr] (920,701)--(870,701)--(870,770)--(920,770);\draw[ln] (920,770)--(920,745)--(937,745)--(937,787);
\draw[ln] (937,847)--(1397,847)--(1397,788);\draw[ln] (1224,788)--(1224,823)--(1371,823)--(1371,788);
\draw[ln] (1048,562)--(1048,787);\draw[ln] (957,562)--(1131,562)--(1131,590);
\draw[ln] (1064,562)--(1064,766)--(1131,766);
\draw[ln] (1008,646) rectangle (1048,742);\draw[ln] (1015,650) -- (1015,738);
\hh{1015}{1045}{652}{736}
\hv{750}{798}{580}{628}\hv{750}{798}{724}{768}\hv{714}{798}{630}{718}
\draw[thk] (708,630)--(805,630);\draw[thn,line width=.9pt] (708,677)--(805,677);
\draw[ln] (709,718) rectangle (805,724);
\end{scope}
\node[inner sep=0pt,text=ink,font=\fontsize{23}{23}\selectfont] (lift3) at (2772,310) {\scalebox{.76}[1]{Lift}};
% ---------- panel 10
\begin{scope}[zz={2560}{310}]
\draw[ln] (57,436)--(57,217)--(70,217)--(70,412)--(102,412)--(102,436);
\draw[gr] (398,0)--(398,140);
\draw[ln] (417,0)--(417,137)--(430,137)--(430,152)--(417,152)--(417,223)--(472,223)--(472,152)--(462,152)--(462,137)--(505,137)--(505,152)--(493,152)--(493,223)--(548,223)--(548,152)--(535,152)--(535,137)--(577,137)--(577,152)--(567,152)--(567,223)--(617,223)--(617,152)--(605,152)--(605,137)--(638,137)--(638,367)--(398,367)--(398,337);
\draw[ln] (398,243)--(617,243)--(617,351)--(605,351)--(605,367);
\draw[ln] (417,367)--(417,274)--(472,274)--(472,367);\draw[ln] (444,274)--(444,367);
\draw[ln] (472,328)--(567,328)--(567,351)--(577,351)--(577,367);
\draw[ln] (398,140)--(398,337);
\draw[ln] (672,345)--(672,367)--(920,367)--(920,345)--cycle;
\draw[ln] (697,128)--(746,128)--(746,97)--(962,97)--(962,160)--(937,160)--(937,175)--(920,175)--(920,160)--(870,160)--(870,225)--(920,225)--(920,220)--(937,220)--(937,262)--(920,262)--(920,253)--(870,253)--(870,320)--(920,320)--(920,303)--(937,303)--(937,320)--(957,320)--(957,367);
\draw[ln] (697,128)--(697,160)--(845,160)--(845,345);
\draw[ln] (920,367)--(1057,367)--(1057,140);\draw[ln] (1040,140)--(1040,367);
\draw[ln] (834,0)--(834,97);\draw[ln] (834,46)--(1005,46)--(1005,142);\draw[ln] (937,0)--(937,46);
\draw[ln] (697,140)--(1057,140);
\draw[ln] (1001,184) rectangle (1008,284);\draw[ln] (1035,184) rectangle (1040,284);
\hh{1008}{1035}{190}{280}
\hv{750}{798}{160}{208}\hv{750}{798}{304}{345}\hv{714}{798}{210}{298}
\draw[thk] (708,210)--(805,210);\draw[thn,line width=.9pt] (708,256)--(805,256);
\draw[ln] (709,298) rectangle (805,304);
\end{scope}
% ---------- panel 11
\begin{scope}[zy={3200}{0}]
\draw[ln] (475,590)--(475,562)--(486,562)--(486,802)--(405,802)--(405,787);
\draw[ln] (208,788)--(208,930)--(338,930);\draw[ln] (208,802)--(293,802)--(293,788);
\hv{260}{292}{802}{850}\hv{260}{292}{858}{907}
\draw[ln] (252,850) rectangle (322,857);\draw[ln] (208,907)--(318,907)--(318,930);
\draw[thn] (270,858)--(285,907);\draw[ln] (258,857)--(258,907);\draw[ln] (316,857)--(316,907);
\draw[ln] (405,838)--(486,838)--(486,930);\draw[ln] (405,838)--(405,930);\draw[ln] (405,853)--(475,853)--(475,930);
\draw[gr] (478,493)--(478,512)--(765,512);
\draw[thn,line width=.7pt] (765,512)--(832,710);
\draw[ln] (832,710)--(832,780)--(524,780)--(524,607)--(564,607)--(564,553)--(524,553)--(524,512);
\draw[ln] (564,553)--(601,553)--(601,512);
\draw[ln] (524,780)--(524,802)--(857,802)--(857,680);
\draw[thn,line width=.7pt] (849,708)--(849,802);
\draw[gr] (514,930)--(514,832)--(638,832);\draw[ln] (638,832)--(638,875)--(682,875)--(682,835);
\draw[gr] (682,835)--(757,835);\draw[ln] (757,835)--(857,835)--(857,930);\draw[ln] (835,835)--(835,930);\draw[gr] (850,835)--(850,930);\draw[ln] (638,875)--(638,930);
\end{scope}
% ---------- panel 12
\begin{scope}[zy={3200}{310}]
\draw[ln] (338,0)--(338,48)--(405,48)--(405,140);
\draw[ln] (475,0)--(475,367)--(486,367)--(486,0);
\draw[gr] (514,0)--(514,418);\draw[ln] (514,127)--(723,127)--(723,157)--(604,157)--(604,280)--(514,280);
\draw[ln] (638,0)--(638,127);
\draw[ln] (770,52)--(835,52)--(835,124)--(768,124);\draw[ln] (770,52)--(770,150);\draw[gr] (770,150)--(832,150);\draw[ln] (832,150)--(832,220);
\draw[thn,line width=.7pt] (832,220)--(765,418);\draw[ln] (765,418)--(478,418);\draw[gr] (478,418)--(478,437);
\draw[ln] (835,0)--(835,124);
\draw[thn,line width=.7pt] (850,0)--(850,220);
\draw[ln] (857,0)--(857,250);
\draw[ln] (562,636)--(562,735);
\draw[gr] (478,661)--(478,742);
\end{scope}
\draw[thn,line width=.7pt] (3643.5,309.5) circle [radius=39.6];
\draw[thn,line width=.7pt] (3643.5,309.5) circle [radius=29];
\end{tikzpicture}
\end{document}
